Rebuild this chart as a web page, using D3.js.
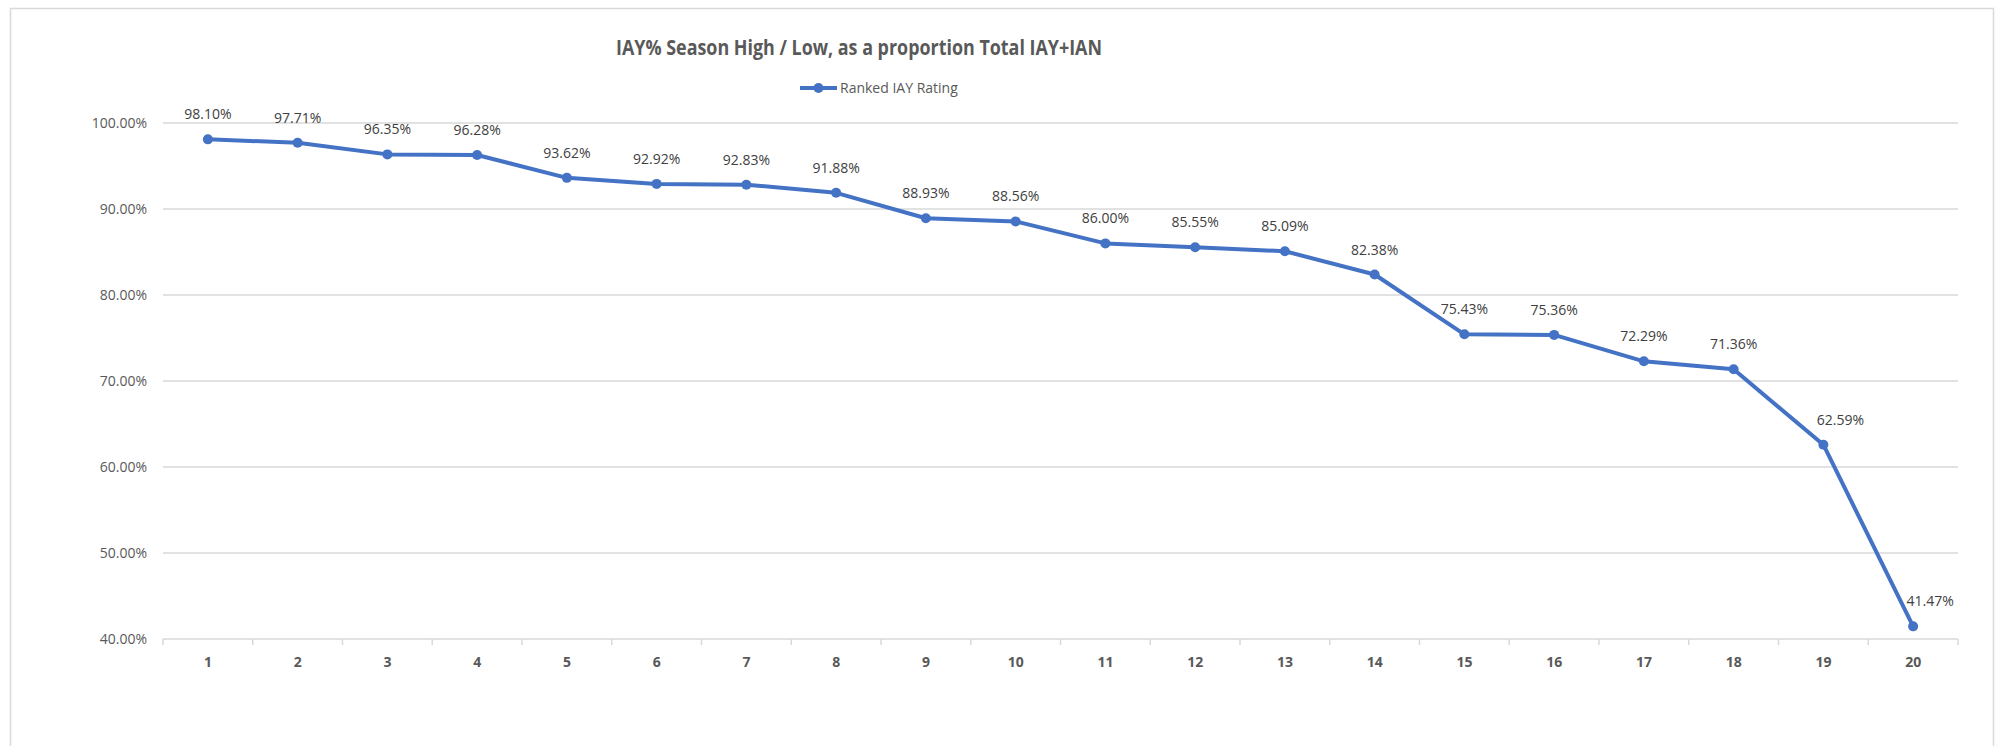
<!DOCTYPE html>
<html>
<head>
<meta charset="utf-8">
<script src="https://cdn.jsdelivr.net/npm/d3@7"></script>
<style>
  body { margin: 0; background: #fff; }
  text { font-family: "Open Sans", "Noto Sans", sans-serif; }
</style>
</head>
<body>
<div id="chart"></div>
<script>
// chart data
var ranks = d3.range(1, 21);
var iayRating = [98.10, 97.71, 96.35, 96.28, 93.62, 92.92, 92.83, 91.88, 88.93, 88.56,
                 86.00, 85.55, 85.09, 82.38, 75.43, 75.36, 72.29, 71.36, 62.59, 41.47];
var yTicks = [40, 50, 60, 70, 80, 90, 100];
var seriesName = "Ranked IAY Rating";
var chartTitle = "IAY% Season High / Low, as a proportion Total IAY+IAN";

var width = 2001, height = 746;
var blue = "#4472C4", grid = "#d9d9d9";

var svg = d3.select("#chart").append("svg")
  .attr("width", width)
  .attr("height", height);

// outer chart border
svg.append("rect")
  .attr("x", 10.5).attr("y", 8.5)
  .attr("width", 1983).attr("height", 760)
  .attr("fill", "#fff")
  .attr("stroke", grid)
  .attr("stroke-width", 1.5);

var plot = { left: 163, right: 1958, top: 123, bottom: 639 };

var x = d3.scaleBand().domain(ranks).range([plot.left, plot.right]);
var y = d3.scaleLinear().domain([40, 100]).range([plot.bottom, plot.top]);
function cx(r) { return x(r) + x.bandwidth() / 2; }

// gridlines
svg.append("g")
  .selectAll("line")
  .data(yTicks)
  .enter().append("line")
  .attr("x1", plot.left).attr("x2", plot.right)
  .attr("y1", function(d) { return y(d); })
  .attr("y2", function(d) { return y(d); })
  .attr("stroke", grid)
  .attr("stroke-width", 1.5);

// y labels
svg.append("g")
  .selectAll("text")
  .data(yTicks)
  .enter().append("text")
  .attr("x", 147)
  .attr("y", function(d) { return y(d) + 5; })
  .attr("text-anchor", "end")
  .attr("fill", "#595959")
  .style("font-size", "14px")
  .text(function(d) { return d.toFixed(2) + "%"; });

// x axis
var xAxis = svg.append("g")
  .attr("transform", "translate(0," + plot.bottom + ")")
  .call(d3.axisBottom(x).tickSize(0).tickPadding(18));
xAxis.select(".domain").remove();
xAxis.selectAll("text")
  .attr("fill", "#595959")
  .style("font-size", "14px")
  .style("font-weight", "bold")
  .style("font-family", "\"Open Sans\", sans-serif");

// tick marks at category boundaries
var bounds = ranks.map(function(r) { return x(r); }).concat([plot.right]);
svg.append("g")
  .selectAll("line")
  .data(bounds)
  .enter().append("line")
  .attr("x1", function(d) { return d; }).attr("x2", function(d) { return d; })
  .attr("y1", plot.bottom).attr("y2", plot.bottom + 6)
  .attr("stroke", grid)
  .attr("stroke-width", 1.5);

var points = ranks.map(function(r, i) { return { r: r, v: iayRating[i], prev: i > 0 ? iayRating[i - 1] : null }; });

// line
var line = d3.line()
  .x(function(d) { return cx(d.r); })
  .y(function(d) { return y(d.v); });

svg.append("path")
  .datum(points)
  .attr("d", line)
  .attr("fill", "none")
  .attr("stroke", blue)
  .attr("stroke-width", 4)
  .attr("stroke-linejoin", "round");

svg.append("g")
  .selectAll("circle")
  .data(points)
  .enter().append("circle")
  .attr("cx", function(d) { return cx(d.r); })
  .attr("cy", function(d) { return y(d.v); })
  .attr("r", 5)
  .attr("fill", blue);

// data labels (nudged right where the incoming line is steep)
svg.append("g")
  .selectAll("text")
  .data(points)
  .enter().append("text")
  .attr("x", function(d) {
    var px = cx(d.r);
    if (d.prev != null && d.prev - d.v > 8) px += 17;
    return Math.min(px, plot.right - 24);
  })
  .attr("y", function(d) { return y(d.v) - 20; })
  .attr("text-anchor", "middle")
  .attr("fill", "#404040")
  .style("font-size", "14px")
  .text(function(d) { return d.v.toFixed(2) + "%"; });

// title
svg.append("text")
  .attr("x", 859)
  .attr("y", 55)
  .attr("text-anchor", "middle")
  .attr("fill", "#595959")
  .style("font-size", "22px")
  .style("font-weight", "bold")
  .attr("textLength", 486)
  .attr("lengthAdjust", "spacingAndGlyphs")
  .text(chartTitle);

// legend
var legend = svg.append("g").attr("transform", "translate(800,88)");
legend.append("line")
  .attr("x1", 0).attr("x2", 37)
  .attr("stroke", blue).attr("stroke-width", 4);
legend.append("circle")
  .attr("cx", 18.5).attr("r", 5).attr("fill", blue);
legend.append("text")
  .attr("x", 40).attr("y", 5)
  .attr("fill", "#595959")
  .style("font-size", "14px")
  .text(seriesName);
</script>
</body>
</html>
